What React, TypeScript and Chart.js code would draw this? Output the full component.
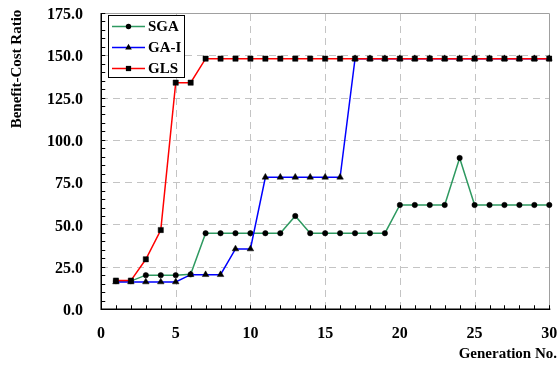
import React, { useEffect, useRef } from "react";
import { Chart, registerables } from "chart.js";

Chart.register(...registerables);

const generations = [1, 2, 3, 4, 5, 6, 7, 8, 9, 10, 11, 12, 13, 14, 15, 16, 17, 18, 19, 20, 21, 22, 23, 24, 25, 26, 27, 28, 29, 30, 31];
const sgaValues = [16.5, 16.5, 20, 20, 20, 20.5, 44.8, 44.8, 44.8, 44.8, 44.8, 44.8, 55, 44.8, 44.8, 44.8, 44.8, 44.8, 44.8, 61.5, 61.5, 61.5, 61.5, 89.3, 61.5, 61.5, 61.5, 61.5, 61.5, 61.5, 50];
const gaiValues = [16, 16, 16, 16, 16, 20.3, 20.3, 20.3, 35.5, 35.5, 77.9, 77.9, 77.9, 77.9, 77.9, 77.9, 148, 148, 148, 148, 148, 148, 148, 148, 148, 148, 148, 148, 148, 148];
const glsValues = [16.8, 16.8, 29.4, 46.7, 133.8, 133.8, 148, 148, 148, 148, 148, 148, 148, 148, 148, 148, 148, 148, 148, 148, 148, 148, 148, 148, 148, 148, 148, 148, 148, 148];
const seriesNames = ["SGA", "GA-I", "GLS"];
const seriesColors = ["#2e9960", "#0000ff", "#ff0000"];
const seriesMarkers = ["circle", "triangle", "rect"];
const yTickLabels = ["0.0", "25.0", "50.0", "75.0", "100.0", "125.0", "150.0", "175.0"];
const xTickLabels = ["0", "5", "10", "15", "20", "25", "30"];
const yTicks = { min: 0, max: 175, step: 25, minor: 5 };
const xTicks = { min: 0, max: 30, step: 5, minor: 1 };
const xTitle = "Generation No.";
const yTitle = "Benefit-Cost Ratio";

const FONT = "'Liberation Serif', 'Times New Roman', serif";

const toPoints = (vals: number[]) => vals.map((v, i) => ({ x: generations[i], y: v }));

function drawMarker(ctx: CanvasRenderingContext2D, style: string, x: number, y: number, r: number) {
  ctx.beginPath();
  if (style === "circle") {
    ctx.arc(x, y, r, 0, Math.PI * 2);
  } else if (style === "rect") {
    const s = r * Math.SQRT1_2;
    ctx.rect(x - s, y - s, 2 * s, 2 * s);
  } else {
    const w = (r * Math.sqrt(3)) / 2;
    ctx.moveTo(x, y - r);
    ctx.lineTo(x + w, y + r / 2);
    ctx.lineTo(x - w, y + r / 2);
    ctx.closePath();
  }
  ctx.fill();
}

const framePlugin = {
  id: "frame",
  beforeDatasetsDraw(chart: any) {
    const { ctx, chartArea: a, scales } = chart;
    const xs = scales.x;
    const ys = scales.y;
    ctx.save();
    ctx.strokeStyle = "#c4c4c4";
    ctx.lineWidth = 1;
    ctx.setLineDash([7, 5]);
    for (let v = yTicks.min + yTicks.step; v < yTicks.max; v += yTicks.step) {
      const y = Math.round(ys.getPixelForValue(v)) + 0.5;
      ctx.beginPath();
      ctx.moveTo(a.left, y);
      ctx.lineTo(a.right, y);
      ctx.stroke();
    }
    for (let v = xTicks.min + xTicks.step; v < xTicks.max; v += xTicks.step) {
      const x = Math.round(xs.getPixelForValue(v)) + 0.5;
      ctx.beginPath();
      ctx.moveTo(x, a.bottom);
      ctx.lineTo(x, a.top);
      ctx.stroke();
    }
    ctx.setLineDash([]);
    ctx.strokeStyle = "#a0a0a0";
    ctx.beginPath();
    const tY = Math.round(a.top) + 0.5;
    const rX = Math.round(a.right) + 0.5;
    ctx.moveTo(a.left, tY);
    ctx.lineTo(rX, tY);
    ctx.lineTo(rX, a.bottom);
    ctx.stroke();
    ctx.restore();
  },
  afterDatasetsDraw(chart: any) {
    const { ctx, chartArea: a, scales } = chart;
    const xs = scales.x;
    const ys = scales.y;
    ctx.save();
    ctx.strokeStyle = "#000";
    ctx.lineWidth = 1.5;
    const lX = Math.round(a.left) + 0.25;
    const bY = Math.round(a.bottom) + 0.25;
    ctx.beginPath();
    ctx.moveTo(lX, a.top);
    ctx.lineTo(lX, bY);
    ctx.lineTo(a.right + 1, bY);
    ctx.stroke();
    ctx.lineWidth = 1;
    ctx.beginPath();
    for (let v = yTicks.min + yTicks.minor; v <= yTicks.max; v += yTicks.minor) {
      const y = Math.round(ys.getPixelForValue(v)) + 0.5;
      ctx.moveTo(lX, y);
      ctx.lineTo(lX + 4, y);
    }
    for (let v = xTicks.min + xTicks.minor; v <= xTicks.max; v += xTicks.minor) {
      const x = Math.round(xs.getPixelForValue(v)) + 0.5;
      ctx.moveTo(x, bY);
      ctx.lineTo(x, bY - 4);
    }
    ctx.stroke();

    // tick labels
    ctx.fillStyle = "#000";
    ctx.font = `bold 16px ${FONT}`;
    ctx.textBaseline = "middle";
    ctx.textAlign = "right";
    yTickLabels.forEach((t) => {
      ctx.fillText(t, a.left - 18, ys.getPixelForValue(parseFloat(t)) + 2);
    });
    ctx.textAlign = "center";
    xTickLabels.forEach((t) => {
      ctx.fillText(t, xs.getPixelForValue(parseFloat(t)), 334);
    });

    // legend
    const lx = 108, ly = 15, lw = 76, lh = 62;
    ctx.fillStyle = "#fff";
    ctx.fillRect(lx, ly, lw, lh);
    ctx.strokeStyle = "#000";
    ctx.lineWidth = 1;
    ctx.strokeRect(lx + 0.5, ly + 0.5, lw, lh);
    const rows = [26.5, 47.5, 68.5];
    chart.data.datasets.forEach((ds: any, i: number) => {
      const y = rows[i];
      ctx.strokeStyle = ds.borderColor;
      ctx.lineWidth = 1.5;
      ctx.beginPath();
      ctx.moveTo(112, y);
      ctx.lineTo(145, y);
      ctx.stroke();
      ctx.fillStyle = "#000";
      drawMarker(ctx, ds.pointStyle, 128.5, y, ds.pointRadius);
      ctx.font = `bold 15px ${FONT}`;
      ctx.textAlign = "left";
      ctx.textBaseline = "middle";
      ctx.fillText(ds.label, 148, y + 1);
    });

    // titles
    ctx.fillStyle = "#000";
    ctx.font = `bold 15px ${FONT}`;
    ctx.textAlign = "right";
    ctx.textBaseline = "middle";
    ctx.fillText(xTitle, 557, 354);
    ctx.save();
    ctx.translate(17, 69);
    ctx.rotate(-Math.PI / 2);
    ctx.textAlign = "center";
    ctx.fillText(yTitle, 0, 0);
    ctx.restore();
    ctx.restore();
  },
};

export default function App() {
  const ref = useRef<HTMLCanvasElement | null>(null);
  useEffect(() => {
    if (!ref.current) return;
    const radii = [2.7, 3.8, 3.7];
    const seriesData = [sgaValues, gaiValues, glsValues];
    const chart = new Chart(ref.current, {
      type: "line",
      data: {
        datasets: seriesNames.map((name, i) => ({
          label: name,
          data: toPoints(seriesData[i]),
          borderColor: seriesColors[i],
          backgroundColor: "#000",
          borderWidth: 1.5,
          pointStyle: seriesMarkers[i],
          pointRadius: radii[i],
          pointBackgroundColor: "#000",
          pointBorderColor: "#000",
          pointBorderWidth: 0.5,
          tension: 0,
          order: 2 - i,
          clip: i === 0 ? false : 3,
        })) as any,
      },
      options: {
        animation: false,
        responsive: false,
        maintainAspectRatio: false,
        layout: { padding: { left: 0, top: 13, right: 9.7, bottom: 0 } },
        plugins: { legend: { display: false }, tooltip: { enabled: false } },
        scales: {
          x: {
            type: "linear",
            min: xTicks.min,
            max: xTicks.max,
            grid: { display: false, drawTicks: false },
            border: { display: false },
            ticks: { display: false, stepSize: xTicks.step },
            afterFit: (s: any) => {
              s.height = 58;
            },
          },
          y: {
            type: "linear",
            min: yTicks.min,
            max: yTicks.max,
            grid: { display: false, drawTicks: false },
            border: { display: false },
            ticks: { display: false, stepSize: yTicks.step },
            afterFit: (s: any) => {
              s.width = 101;
            },
          },
        },
      },
      plugins: [framePlugin],
    } as any);
    return () => chart.destroy();
  }, []);
  return (
    <div style={{ position: "fixed", left: 0, top: 0, width: 559, height: 367, background: "#fff" }}>
      <canvas ref={ref} width={559} height={367} style={{ display: "block" }} />
    </div>
  );
}
